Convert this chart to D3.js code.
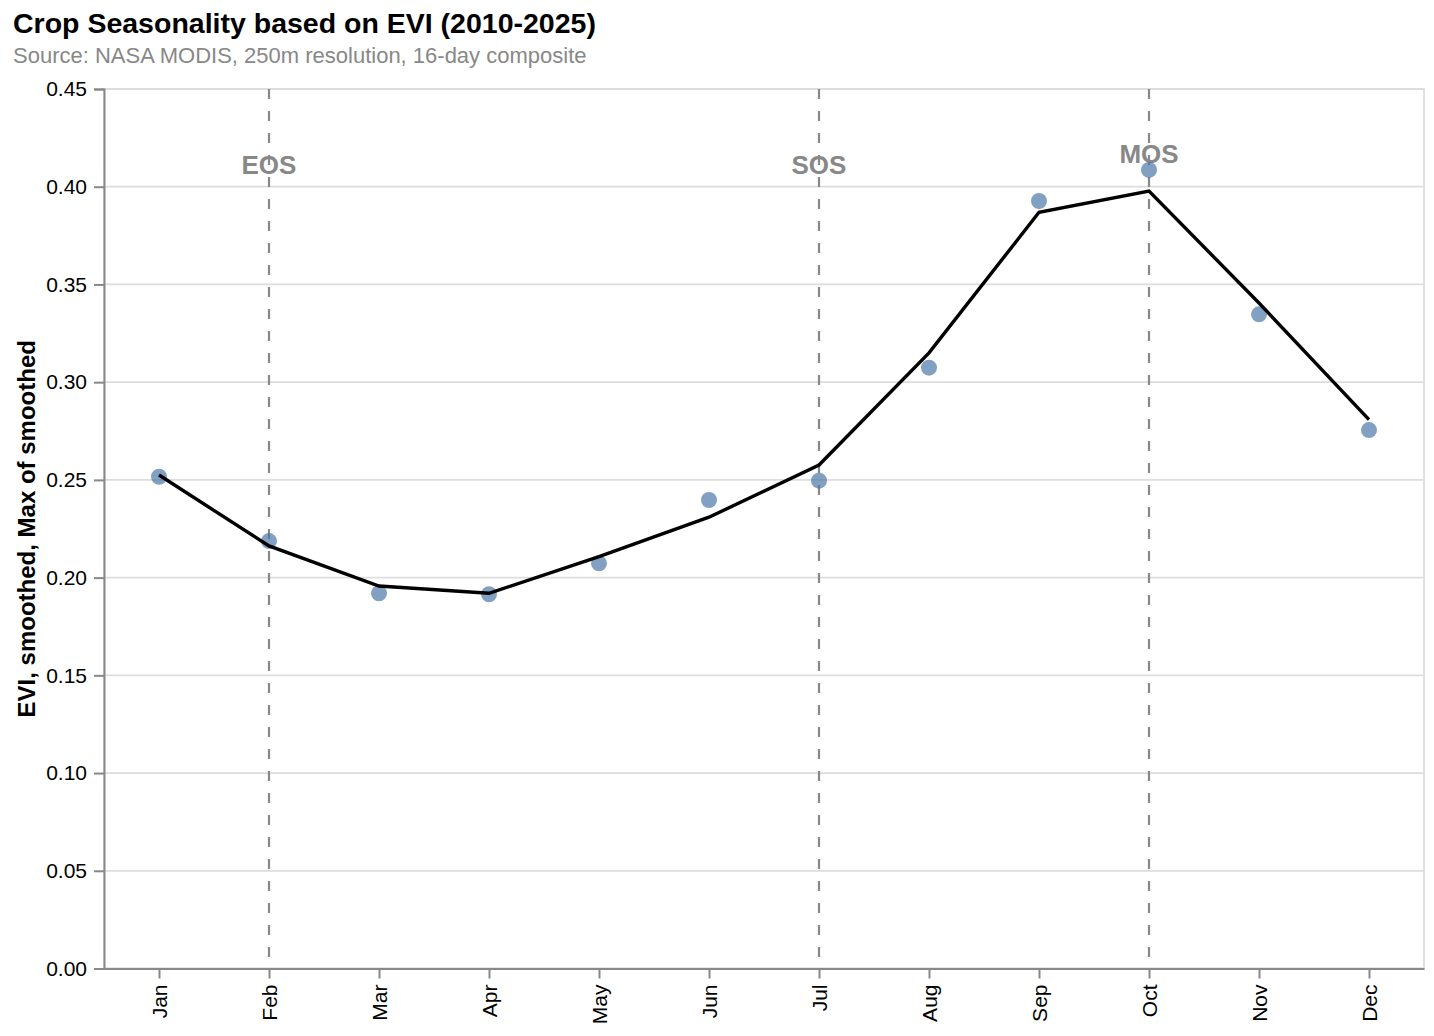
<!DOCTYPE html>
<html>
<head>
<meta charset="utf-8">
<script src="https://cdn.jsdelivr.net/npm/d3@7"></script>
<style>
  body { margin: 0; background: #fff; }
  text { font-family: "Liberation Sans", Arial, Helvetica, sans-serif; }
</style>
</head>
<body>
<svg id="chart" width="1434" height="1036"></svg>
<script>
// ---- data ----
const months = ["Jan","Feb","Mar","Apr","May","Jun","Jul","Aug","Sep","Oct","Nov","Dec"];
const eviMax = [0.2516,0.2187,0.1920,0.1915,0.2073,0.2397,0.2496,0.3074,0.3927,0.4086,0.3347,0.2755];
const eviSmoothed = [0.2525,0.2162,0.1957,0.1920,0.2107,0.2309,0.2576,0.3150,0.3869,0.3978,0.3405,0.2808];
const yTicks = [0,0.05,0.10,0.15,0.20,0.25,0.30,0.35,0.40,0.45];
const eventMonths = ["Feb","Jul","Oct"];
const eventLabels = ["EOS","SOS","MOS"];
const eventLabelValues = [0.4066,0.4066,0.4122];
const titleText = "Crop Seasonality based on EVI (2010-2025)";
const subtitleText = "Source: NASA MODIS, 250m resolution, 16-day composite";
const yTitle = "EVI, smoothed, Max of smoothed";

// ---- layout ----
const L = 104, R = 1424, T = 89, B = 968.5;
const svg = d3.select("#chart");

const x = d3.scalePoint().domain(months).range([L, R]).padding(0.5);
const y = d3.scaleLinear().domain([0, 0.45]).range([B, T]);

// grid
svg.append("g").selectAll("line").data(yTicks).join("line")
  .attr("x1", L).attr("x2", R)
  .attr("y1", d => y(d)).attr("y2", d => y(d))
  .attr("stroke", "#ddd").attr("stroke-width", 1.8);

// view border
svg.append("rect").attr("x", L).attr("y", T).attr("width", R - L).attr("height", B - T)
  .attr("fill", "none").attr("stroke", "#ddd").attr("stroke-width", 1.8);

// event rules
svg.append("g").selectAll("line").data(eventMonths).join("line")
  .attr("x1", d => x(d)).attr("x2", d => x(d))
  .attr("y1", y(0.45)).attr("y2", y(0))
  .attr("stroke", "#888").attr("stroke-width", 2.2)
  .attr("stroke-dasharray", "10,12");

// event labels
svg.append("g").selectAll("text").data(eventLabels).join("text")
  .attr("x", (d, i) => x(eventMonths[i]))
  .attr("y", (d, i) => y(eventLabelValues[i]))
  .attr("text-anchor", "middle")
  .attr("font-size", 26).attr("font-weight", "bold")
  .attr("fill", "#888")
  .text(d => d);

// points
svg.append("g").selectAll("circle").data(months).join("circle")
  .attr("cx", d => x(d))
  .attr("cy", (d, i) => y(eviMax[i]))
  .attr("r", 8)
  .attr("fill", "#4c78a8").attr("fill-opacity", 0.7);

// smoothed line
const line = d3.line().x((d, i) => x(months[i])).y(d => y(d));
svg.append("path").datum(eviSmoothed)
  .attr("d", line)
  .attr("fill", "none").attr("stroke", "#000").attr("stroke-width", 3.4)
  .attr("stroke-linejoin", "miter");

// y axis
const yAxis = svg.append("g").attr("transform", `translate(${L},0)`)
  .call(d3.axisLeft(y).tickValues(yTicks).tickFormat(d3.format(".2f")).tickSize(10).tickPadding(7));
yAxis.select(".domain").attr("stroke", "#888").attr("stroke-width", 2);
yAxis.selectAll(".tick line").attr("stroke", "#888").attr("stroke-width", 2);
yAxis.selectAll(".tick text").attr("font-size", 21).attr("fill", "#000")
  .attr("font-family", "'Liberation Sans', Arial, Helvetica, sans-serif");

// x axis
const xAxis = svg.append("g").attr("transform", `translate(0,${B})`)
  .call(d3.axisBottom(x).tickSize(10).tickSizeOuter(0).tickPadding(6));
xAxis.select(".domain").attr("stroke", "#888").attr("stroke-width", 2);
xAxis.selectAll(".tick line").attr("stroke", "#888").attr("stroke-width", 2);
xAxis.selectAll(".tick text")
  .attr("font-size", 21).attr("fill", "#000")
  .attr("font-family", "'Liberation Sans', Arial, Helvetica, sans-serif")
  .attr("transform", "rotate(-90)")
  .attr("text-anchor", "end")
  .attr("x", -16).attr("y", 0).attr("dy", "0.35em");

// y title
svg.append("text")
  .attr("transform", `translate(35,${(T + B) / 2}) rotate(-90)`)
  .attr("text-anchor", "middle")
  .attr("font-size", 24).attr("font-weight", "bold").attr("fill", "#000")
  .text(yTitle);

// title + subtitle
svg.append("text").attr("x", 13).attr("y", 33)
  .attr("font-size", 28.5).attr("font-weight", "bold").attr("fill", "#000")
  .text(titleText);
svg.append("text").attr("x", 13).attr("y", 63)
  .attr("font-size", 22).attr("fill", "#888")
  .text(subtitleText);
</script>
</body>
</html>
